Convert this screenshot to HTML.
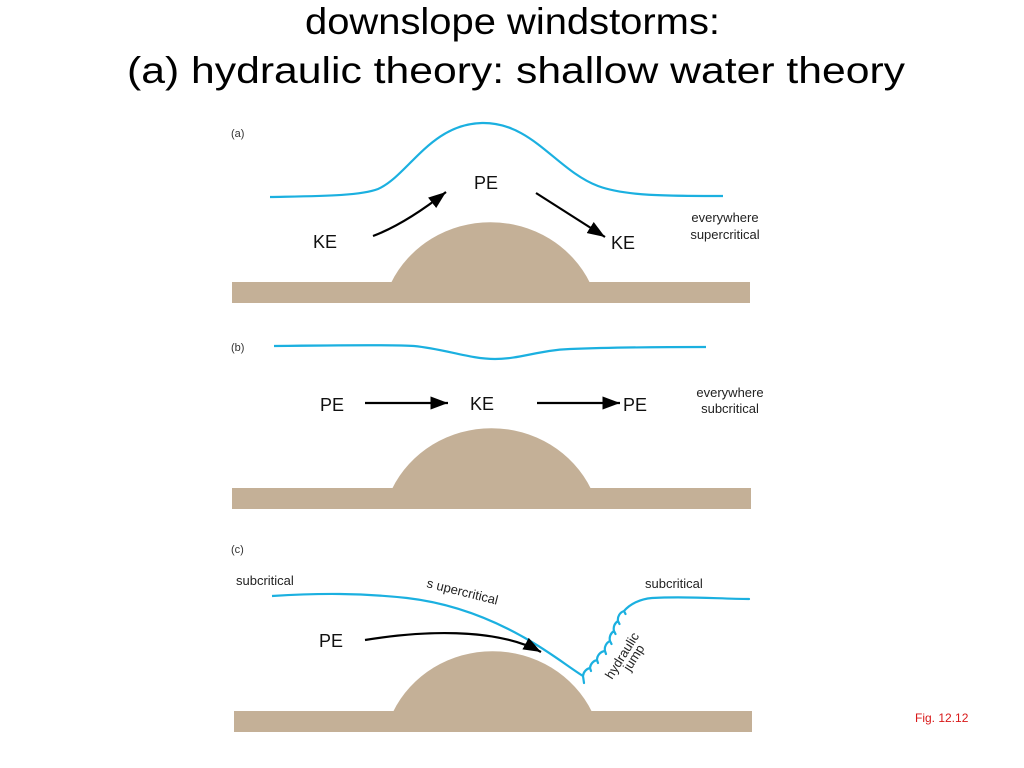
<!DOCTYPE html>
<html>
<head>
<meta charset="utf-8">
<style>
  html, body { margin:0; padding:0; background:#ffffff; }
  svg { display:block; }
  .ttl { font-family:"Liberation Sans", "DejaVu Sans", sans-serif; font-size:37px; fill:#000; }
  .lbl { font-family:"Liberation Sans", sans-serif; font-size:18px; fill:#111; }
  .sm { font-family:"Liberation Sans", sans-serif; font-size:13px; fill:#222; }
  .pl { font-family:"Liberation Sans", sans-serif; font-size:11px; fill:#333; }
</style>
</head>
<body>
<svg width="1024" height="768" viewBox="0 0 1024 768" xmlns="http://www.w3.org/2000/svg">
  <defs>
    <marker id="ah" markerWidth="8" markerHeight="6" refX="8" refY="3" orient="auto" markerUnits="strokeWidth">
      <path d="M0,0 L8,3 L0,6 z" fill="#000"/>
    </marker>
  </defs>
  <rect width="1024" height="768" fill="#fff"/>

  <!-- Title -->
  <text class="ttl" x="305" y="34" textLength="415" lengthAdjust="spacingAndGlyphs">downslope windstorms:</text>
  <text class="ttl" x="127" y="83" textLength="778" lengthAdjust="spacingAndGlyphs">(a) hydraulic theory: shallow water theory</text>

  <!-- ===== Panel (a) ===== -->
  <text class="pl" x="231" y="137">(a)</text>
  <path d="M270,197 C 320,196 360,196 378,189 C 408,176 430,124 482,123 C 532,122 556,170 598,186 C 625,196 665,196 723,196" fill="none" stroke="#1bb0e0" stroke-width="2.2"/>
  <rect x="232" y="282" width="518" height="21" fill="#c4b097"/>
  <path d="M391,283 A 110 106 0 0 1 590 283 Z" fill="#c4b097"/>
  <text class="lbl" x="486" y="189" text-anchor="middle">PE</text>
  <text class="lbl" x="325" y="248" text-anchor="middle">KE</text>
  <text class="lbl" x="623" y="249" text-anchor="middle">KE</text>
  <path d="M373,236 Q 405,224 446,192" fill="none" stroke="#000" stroke-width="2.2" marker-end="url(#ah)"/>
  <path d="M536,193 L605,237" fill="none" stroke="#000" stroke-width="2.2" marker-end="url(#ah)"/>
  <text class="sm" x="725" y="222" text-anchor="middle">everywhere</text>
  <text class="sm" x="725" y="239" text-anchor="middle">supercritical</text>

  <!-- ===== Panel (b) ===== -->
  <text class="pl" x="231" y="351">(b)</text>
  <path d="M274,346 C 350,345 400,345 414,346 C 445,349 470,359 495,359 C 520,359 540,350 570,349 C 620,347 680,347 706,347" fill="none" stroke="#1bb0e0" stroke-width="2.2"/>
  <rect x="232" y="488" width="519" height="21" fill="#c4b097"/>
  <path d="M392,489 A 110 106 0 0 1 591 489 Z" fill="#c4b097"/>
  <text class="lbl" x="332" y="411" text-anchor="middle">PE</text>
  <text class="lbl" x="482" y="410" text-anchor="middle">KE</text>
  <text class="lbl" x="635" y="411" text-anchor="middle">PE</text>
  <path d="M365,403 L448,403" fill="none" stroke="#000" stroke-width="2.2" marker-end="url(#ah)"/>
  <path d="M537,403 L620,403" fill="none" stroke="#000" stroke-width="2.2" marker-end="url(#ah)"/>
  <text class="sm" x="730" y="397" text-anchor="middle">everywhere</text>
  <text class="sm" x="730" y="413" text-anchor="middle">subcritical</text>

  <!-- ===== Panel (c) ===== -->
  <text class="pl" x="231" y="553">(c)</text>
  <rect x="234" y="711" width="518" height="21" fill="#c4b097"/>
  <path d="M393,712 A 110 106 0 0 1 592 712 Z" fill="#c4b097"/>
  <path d="M272,596 C 320,593 360,593 407,598 C 450,603 490,618 525,638 C 550,652 570,668 583,676" fill="none" stroke="#1bb0e0" stroke-width="2.2"/>
  <!-- hydraulic jump scallops -->
  <path d="M583,676 L584,683 M583,676
           A 9 9 0 0 1 590,668 l1,3
           M590,668 A 9 9 0 0 1 597,660 l1,3
           M597,660 A 9 9 0 0 1 605,651 l1,3
           M605,651 A 9 9 0 0 1 610,641 l1.5,3
           M610,641 A 9 9 0 0 1 614,631 l1.5,3
           M614,631 A 9 9 0 0 1 618,621 l1.5,3
           M618,621 A 9 9 0 0 1 624,611 l1.5,3
           M624,611 C 630,604 640,599 652,598 C 690,596 720,599 749,599"
        fill="none" stroke="#1bb0e0" stroke-width="2.2" stroke-linejoin="round" stroke-linecap="round"/>
  <text class="sm" x="236" y="585">subcritical</text>
  <text class="sm" x="645" y="588">subcritical</text>
  <text class="sm" x="0" y="0" transform="translate(426,587) rotate(14)">s upercritical</text>
  <text class="sm" x="0" y="0" transform="translate(612,680) rotate(-58)">hydraulic</text>
  <text class="sm" x="0" y="0" transform="translate(630,672) rotate(-58)">jump</text>
  <text class="lbl" x="331" y="647" text-anchor="middle">PE</text>
  <path d="M365,640 C 420,631 495,627 541,652" fill="none" stroke="#000" stroke-width="2.2" marker-end="url(#ah)"/>

  <!-- Fig label -->
  <text x="915" y="722" font-family="Liberation Sans, sans-serif" font-size="12" fill="#d81818">Fig. 12.12</text>
</svg>
</body>
</html>
